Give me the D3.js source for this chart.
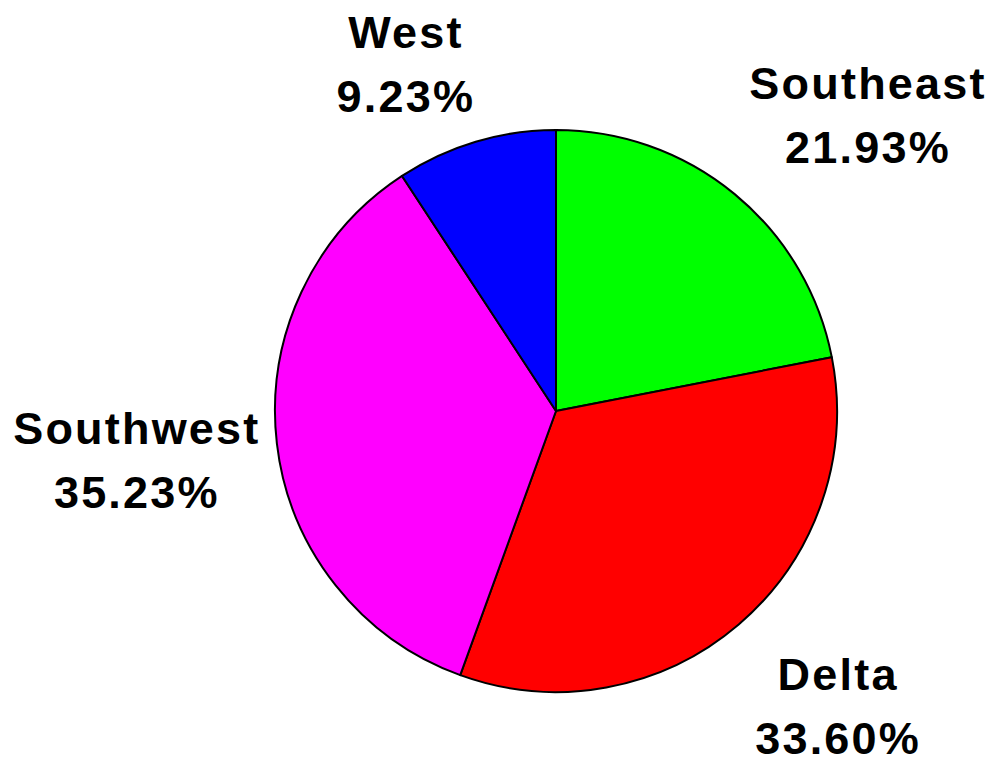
<!DOCTYPE html>
<html>
<head>
<meta charset="utf-8">
<script src="https://cdn.jsdelivr.net/npm/d3@7"></script>
<style>
  body { margin: 0; background: #fff; }
  .lbl { font-family: "Liberation Sans", Arial, sans-serif; font-weight: bold; font-size: 45px; letter-spacing: 2.2px; fill: #000; }
</style>
</head>
<body>
<div id="chart"></div>
<script>
// data
var regions = ["Southeast", "Delta", "Southwest", "West"];
var shares = [21.93, 33.60, 35.23, 9.23];
var colors = ["#00ff00", "#ff0000", "#ff00ff", "#0000ff"];

// label tweaks (px) from the default label ring
var labelNudge = [[45, 28], [9, -24], [-2, 0], [-30, 55]];

var width = 994, height = 761;
var cx = 556, cy = 411, radius = 281, labelRadius = 420;

var svg = d3.select("#chart").append("svg")
    .attr("width", width)
    .attr("height", height);

var g = svg.append("g")
    .attr("transform", "translate(" + cx + "," + cy + ")");

var pieData = regions.map(function(r, i){
    return {name: r, value: shares[i], color: colors[i], nudge: labelNudge[i]};
});

var pie = d3.pie()
    .sort(null)
    .value(function(d){ return d.value; });

var arc = d3.arc()
    .innerRadius(0)
    .outerRadius(radius);

var arcs = pie(pieData);

g.selectAll("path.slice")
    .data(arcs)
    .enter().append("path")
    .attr("class", "slice")
    .attr("d", arc)
    .attr("fill", function(d){ return d.data.color; })
    .attr("stroke", "#000")
    .attr("stroke-width", 2)
    .attr("stroke-linejoin", "round");

var labels = g.selectAll("text.lbl")
    .data(arcs)
    .enter().append("text")
    .attr("class", "lbl")
    .attr("text-anchor", "middle")
    .attr("transform", function(d){
        var a = (d.startAngle + d.endAngle) / 2;
        var x = labelRadius * Math.sin(a) + d.data.nudge[0];
        var y = -labelRadius * Math.cos(a) + d.data.nudge[1];
        return "translate(" + x + "," + (y - 16) + ")";
    });

labels.append("tspan")
    .attr("x", 0)
    .attr("y", 0)
    .text(function(d){ return d.data.name; });

labels.append("tspan")
    .attr("x", 0)
    .attr("y", 64)
    .text(function(d){ return d.data.value.toFixed(2) + "%"; });
</script>
</body>
</html>
